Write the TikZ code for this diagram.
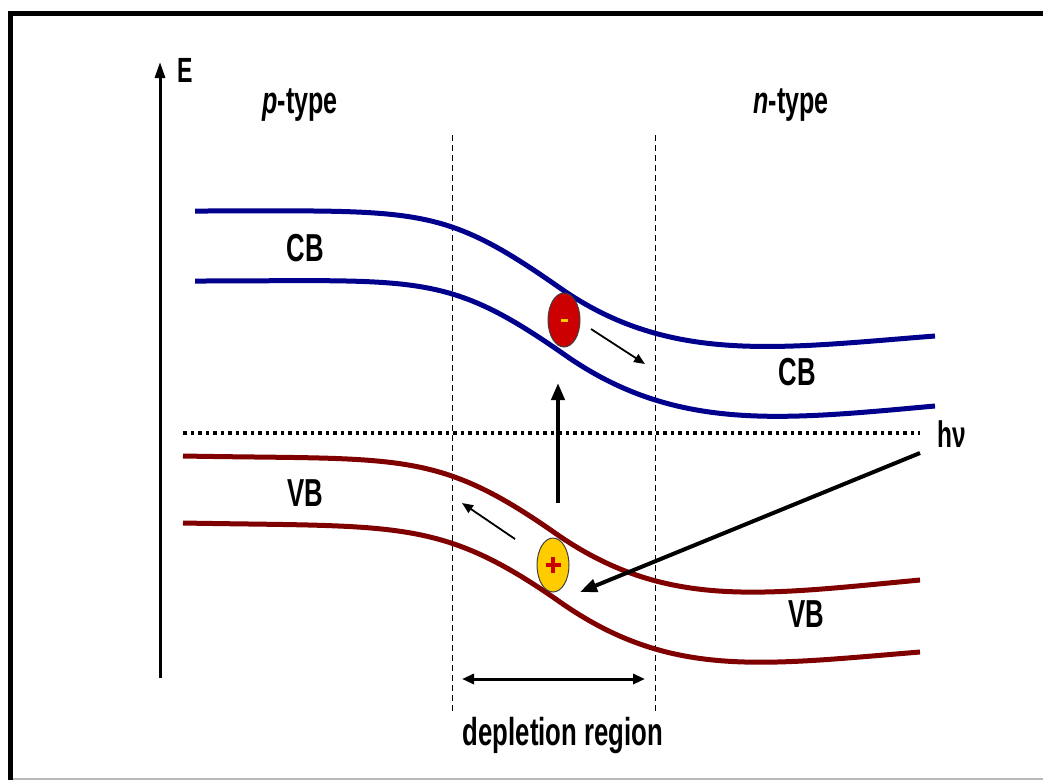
\documentclass[tikz,border=0pt]{standalone}
\usepackage{fontspec}
\setmainfont{Liberation Sans}
\newfontfamily\lab[FakeStretch=0.66]{Liberation Sans}
\usetikzlibrary{arrows.meta,shapes.geometric,calc}
\definecolor{bandblue}{RGB}{0,0,140}
\definecolor{bandred}{RGB}{128,0,0}
\definecolor{elecred}{RGB}{204,0,0}
\definecolor{holeyel}{RGB}{255,204,0}
\definecolor{framegray}{RGB}{185,185,185}
\begin{document}
\begin{tikzpicture}[x=1pt,y=-1pt,
  cbband/.style={line width=5pt,draw=bandblue},
  vbband/.style={line width=5pt,draw=bandred},
  lbl/.style={inner sep=0pt,font=\lab\bfseries\fontsize{39}{39}\selectfont},
  lblsm/.style={inner sep=0pt,font=\lab\bfseries\fontsize{35}{35}\selectfont},
  lbltype/.style={inner sep=0pt,font=\lab\bfseries\fontsize{38}{38}\selectfont},
  bound/.style={line width=1pt,dash pattern=on 6pt off 4pt},
  carrier/.style={ellipse,draw=black!75,line width=1pt,minimum width=32pt,minimum height=54pt,inner sep=0pt},
  smallarrow/.style={line width=1.8pt,-{Triangle[length=11pt,width=9pt]}},
  bigarrow/.style={line width=4pt,-{Triangle[length=17pt,width=13pt]}}]
\useasboundingbox (0,0) rectangle (1043,780);
\fill[white] (0,0) rectangle (1043,780);
% frame
\draw[line width=5pt] (8,13.5) -- (1043,13.5);
\draw[line width=5pt] (10.5,11) -- (10.5,780);
\draw[line width=2pt,framegray] (13,779) -- (1043,779);
% energy axis
\coordinate (ebot) at (160,678);
\coordinate (etop) at (160,62);
\draw[line width=3pt,-{Triangle[length=16pt,width=10pt]}] (ebot) -- (etop);
\node[lblsm,anchor=base] (elab) at (185,82) {E};
\node[lbltype,anchor=base] (ptype) at (300,113) {\textit{p}-type};
\node[lbltype,anchor=base] (ntype) at (791,113) {\textit{n}-type};
% depletion boundaries
\coordinate (dlt) at (452,135); \coordinate (dlb) at (452,712);
\coordinate (drt) at (655,135); \coordinate (drb) at (655,712);
\draw[bound] (dlt) -- (dlb);
\draw[bound] (drt) -- (drb);
% conduction band
\draw[cbband] (195,211) .. controls (420,211) and (440,204) .. (560,288) .. controls (670,365) and (780,348) .. (935,336);
\draw[cbband] (195,281) .. controls (420,281) and (445,271) .. (565,355) .. controls (675,432) and (780,420) .. (935,406);
% valence band
\draw[vbband] (183,456) .. controls (400,460) and (435,449) .. (555,533) .. controls (665,610) and (760,595) .. (920,580);
\draw[vbband] (183,523) .. controls (400,527) and (440,518) .. (560,602) .. controls (670,679) and (760,665) .. (920,652);
% fermi level
\coordinate (fl) at (183,433); \coordinate (fr) at (920,433);
\draw[line width=4pt,dash pattern=on 3.5pt off 4pt] (fl) -- (fr);
% labels
\node[lbl] (cbl) at (305,248) {CB};
\node[lbl] (cbr) at (797,372) {CB};
\node[lbl] (vbl) at (305,493) {VB};
\node[lbl] (vbr) at (806,614) {VB};
\node[inner sep=0pt,anchor=base,font=\lab\bfseries\fontsize{37}{37}\selectfont] (hv) at (952,447) {hν};
% carriers
\node[carrier,fill=elecred] (elec) at (564,320) {};
\fill[holeyel] ($(elec)+(-3.5,-1.5)$) rectangle ($(elec)+(3.5,1.5)$);
\node[carrier,fill=holeyel] (hole) at (553,565) {};
\draw[elecred,line width=3.2pt] ($(hole)+(-7.5,0)$) -- ($(hole)+(7.5,0)$);
\draw[elecred,line width=3.2pt] ($(hole)+(0,-8)$) -- ($(hole)+(0,8)$);
% arrows
\coordinate (ea1) at (591,329); \coordinate (ea2) at (645,364);
\draw[smallarrow] (ea1) -- (ea2);
\coordinate (ha1) at (515,539); \coordinate (ha2) at (462,503);
\draw[smallarrow] (ha1) -- (ha2);
\coordinate (va1) at (558,503); \coordinate (va2) at (558,383);
\draw[bigarrow] (va1) -- (va2);
\coordinate (la1) at (920,453); \coordinate (la2) at (580,592);
\draw[bigarrow] (la1) -- (la2);
% depletion width
\coordinate (dw1) at (462,679); \coordinate (dw2) at (645,679);
\draw[line width=3pt,{Triangle[length=12pt,width=10pt]}-{Triangle[length=12pt,width=10pt]}] (dw1) -- (dw2);
\node[lbl,anchor=base] (dep) at (563,745) {depletion region};
\end{tikzpicture}
\end{document}
